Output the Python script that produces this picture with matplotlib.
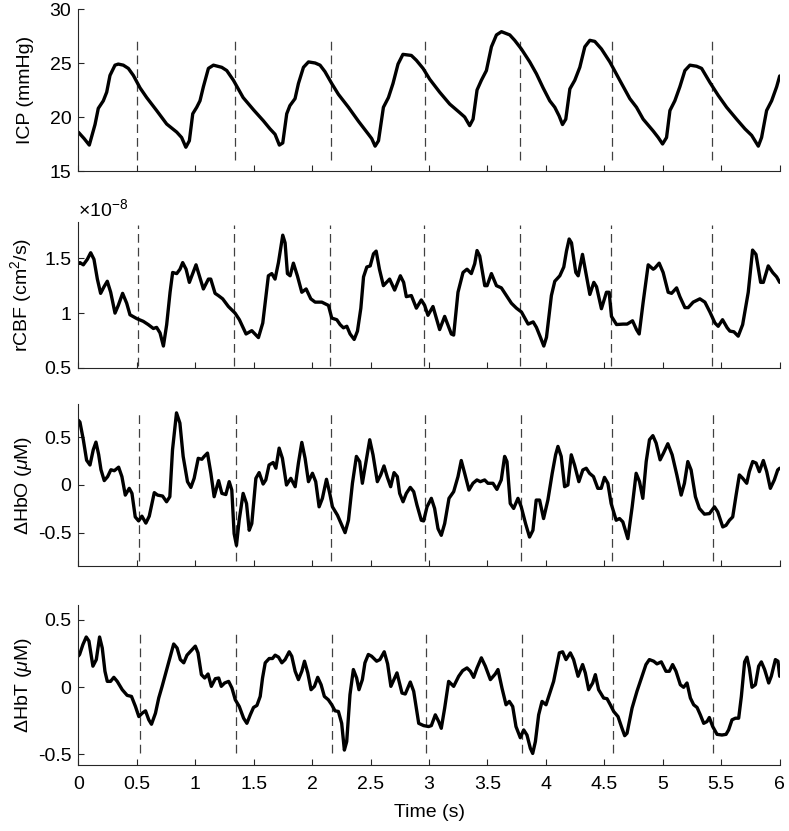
import matplotlib
matplotlib.use("Agg")
import matplotlib.pyplot as plt
from matplotlib.ticker import FormatStrFormatter

plt.rcParams["font.family"] = ["Liberation Sans", "DejaVu Sans"]
plt.rcParams["mathtext.fontset"] = "custom"
plt.rcParams["mathtext.rm"] = "Liberation Sans"
plt.rcParams["mathtext.it"] = "Liberation Sans:italic"

# (time s, value) points
icp_points = [
    (0.0, 18.6), (0.05, 18.0), (0.094, 17.4), (0.143, 19.3), (0.171, 20.8), (0.214, 21.5),
    (0.243, 22.3), (0.271, 23.85), (0.314, 24.8), (0.342, 24.9), (0.385, 24.8), (0.428, 24.5),
    (0.471, 23.85), (0.528, 22.7), (0.585, 21.8), (0.67, 20.6), (0.756, 19.35), (0.842, 18.6),
    (0.884, 18.1), (0.92, 17.2), (0.95, 17.8), (0.979, 20.3), (1.013, 20.9), (1.041, 21.5),
    (1.07, 22.8), (1.113, 24.5), (1.156, 24.8), (1.227, 24.6), (1.27, 24.3), (1.327, 23.4),
    (1.41, 21.8), (1.5, 20.65), (1.583, 19.65), (1.64, 18.9), (1.683, 18.4), (1.72, 17.4),
    (1.749, 17.6), (1.783, 20.3), (1.81, 21.05), (1.854, 21.7), (1.883, 23.1), (1.926, 24.6),
    (1.969, 25.1), (2.026, 25.0), (2.068, 24.8), (2.11, 24.2), (2.168, 23.1), (2.225, 22.1),
    (2.311, 20.9), (2.397, 19.6), (2.482, 18.4), (2.51, 18.0), (2.539, 17.3), (2.568, 17.8),
    (2.61, 20.9), (2.653, 21.8), (2.692, 23.1), (2.735, 24.9), (2.777, 25.8), (2.849, 25.7),
    (2.892, 25.25), (2.949, 24.5), (3.006, 23.5), (3.091, 22.3), (3.177, 21.2), (3.263, 20.4),
    (3.305, 20.0), (3.348, 19.2), (3.377, 19.8), (3.411, 22.5), (3.448, 23.4), (3.491, 24.3),
    (3.534, 26.5), (3.577, 27.6), (3.62, 27.9), (3.691, 27.6), (3.733, 27.1), (3.79, 26.3),
    (3.862, 25.1), (3.919, 24.0), (3.976, 22.7), (4.033, 21.5), (4.076, 20.9), (4.113, 20.1),
    (4.142, 19.3), (4.17, 19.8), (4.205, 22.6), (4.247, 23.4), (4.29, 24.6), (4.333, 26.5),
    (4.376, 27.1), (4.418, 27.0), (4.475, 26.3), (4.547, 25.1), (4.632, 23.4), (4.718, 21.7),
    (4.775, 20.9), (4.832, 19.8), (4.918, 18.7), (4.961, 18.1), (4.998, 17.5), (5.032, 18.1),
    (5.061, 20.6), (5.103, 21.5), (5.146, 22.8), (5.189, 24.3), (5.232, 24.8), (5.289, 24.7),
    (5.332, 24.5), (5.403, 23.2), (5.474, 22.0), (5.546, 20.9), (5.631, 19.8), (5.703, 18.9),
    (5.76, 18.3), (5.817, 17.3), (5.845, 18.1), (5.888, 20.6), (5.931, 21.5), (5.974, 22.8),
    (6.0, 23.8),
]

# rCBF in units of 1e-8 cm^2/s
rcbf_points = [
    (0.0, 1.45), (0.014, 1.46), (0.043, 1.44), (0.077, 1.49), (0.106, 1.55), (0.134, 1.49),
    (0.163, 1.31), (0.191, 1.18), (0.22, 1.24), (0.248, 1.29), (0.277, 1.19), (0.314, 1.0),
    (0.342, 1.07), (0.379, 1.18), (0.414, 1.09), (0.442, 0.985), (0.5, 0.95), (0.556, 0.925),
    (0.599, 0.895), (0.642, 0.86), (0.67, 0.87), (0.699, 0.82), (0.728, 0.70), (0.756, 0.895),
    (0.785, 1.19), (0.807, 1.37), (0.842, 1.36), (0.87, 1.40), (0.893, 1.46), (0.922, 1.40),
    (0.95, 1.28), (0.979, 1.36), (1.007, 1.44), (1.036, 1.34), (1.07, 1.22), (1.113, 1.31),
    (1.133, 1.31), (1.17, 1.18), (1.198, 1.16), (1.235, 1.13), (1.284, 1.06), (1.341, 1.0),
    (1.378, 0.94), (1.435, 0.81), (1.484, 0.84), (1.541, 0.777), (1.578, 0.91), (1.626, 1.34),
    (1.655, 1.36), (1.683, 1.31), (1.712, 1.46), (1.749, 1.71), (1.769, 1.64), (1.789, 1.36),
    (1.812, 1.34), (1.84, 1.455), (1.874, 1.34), (1.912, 1.19), (1.949, 1.22), (1.989, 1.13),
    (2.026, 1.10), (2.083, 1.10), (2.14, 1.07), (2.168, 0.955), (2.211, 0.94), (2.24, 0.895),
    (2.268, 0.866), (2.297, 0.88), (2.325, 0.81), (2.36, 0.76), (2.388, 0.836), (2.417, 1.045),
    (2.44, 1.33), (2.468, 1.42), (2.497, 1.43), (2.525, 1.54), (2.548, 1.565), (2.576, 1.40),
    (2.61, 1.25), (2.663, 1.31), (2.706, 1.21), (2.755, 1.34), (2.783, 1.28), (2.806, 1.15),
    (2.849, 1.16), (2.892, 1.045), (2.934, 1.12), (2.963, 1.07), (2.991, 0.98), (3.034, 1.06),
    (3.091, 0.85), (3.134, 0.97), (3.191, 0.81), (3.211, 0.80), (3.248, 1.19), (3.291, 1.37),
    (3.325, 1.40), (3.362, 1.36), (3.391, 1.45), (3.411, 1.57), (3.434, 1.52), (3.477, 1.25),
    (3.497, 1.25), (3.534, 1.36), (3.577, 1.25), (3.619, 1.23), (3.662, 1.16), (3.705, 1.09),
    (3.748, 1.045), (3.791, 1.01), (3.819, 0.955), (3.848, 0.90), (3.891, 0.92), (3.919, 0.87),
    (3.953, 0.78), (3.982, 0.70), (4.005, 0.78), (4.047, 1.16), (4.076, 1.29), (4.119, 1.34),
    (4.153, 1.42), (4.176, 1.565), (4.199, 1.675), (4.219, 1.64), (4.239, 1.49), (4.256, 1.37),
    (4.276, 1.34), (4.313, 1.535), (4.347, 1.34), (4.376, 1.17), (4.41, 1.28), (4.433, 1.24),
    (4.475, 1.04), (4.518, 1.19), (4.541, 1.19), (4.561, 0.97), (4.604, 0.896), (4.661, 0.90),
    (4.695, 0.90), (4.741, 0.93), (4.775, 0.85), (4.798, 0.81), (4.832, 1.10), (4.875, 1.44),
    (4.918, 1.40), (4.932, 1.41), (4.969, 1.455), (5.003, 1.37), (5.046, 1.19), (5.075, 1.18),
    (5.118, 1.23), (5.146, 1.15), (5.189, 1.05), (5.217, 1.05), (5.26, 1.10), (5.317, 1.13),
    (5.36, 1.10), (5.403, 1.01), (5.446, 0.91), (5.474, 0.88), (5.511, 0.94), (5.551, 0.866),
    (5.574, 0.836), (5.608, 0.83), (5.645, 0.79), (5.683, 0.895), (5.731, 1.19), (5.768, 1.574),
    (5.797, 1.535), (5.837, 1.28), (5.86, 1.28), (5.902, 1.43), (5.94, 1.37), (5.974, 1.33),
    (6.0, 1.28),
]

hbo_points = [
    (0.0, 0.68), (0.014, 0.66), (0.043, 0.475), (0.071, 0.26), (0.1, 0.21), (0.128, 0.37),
    (0.151, 0.45), (0.174, 0.32), (0.194, 0.16), (0.222, 0.046), (0.251, 0.088), (0.279, 0.16),
    (0.308, 0.15), (0.345, 0.187), (0.373, 0.088), (0.402, -0.106), (0.436, -0.035), (0.459, -0.088),
    (0.487, -0.335), (0.516, -0.377), (0.544, -0.327), (0.578, -0.40), (0.607, -0.327), (0.65, -0.08),
    (0.678, -0.106), (0.721, -0.116), (0.755, -0.176), (0.783, -0.123), (0.806, 0.37), (0.84, 0.757),
    (0.869, 0.65), (0.897, 0.30), (0.934, 0.035), (0.963, -0.025), (0.991, 0.07), (1.026, 0.28),
    (1.057, 0.27), (1.077, 0.30), (1.105, 0.335), (1.134, 0.123), (1.162, -0.123), (1.2, 0.046),
    (1.228, -0.088), (1.262, -0.1), (1.291, 0.035), (1.313, -0.053), (1.333, -0.51), (1.353, -0.634),
    (1.376, -0.37), (1.41, -0.088), (1.439, -0.194), (1.462, -0.475), (1.484, -0.405), (1.519, 0.07),
    (1.547, 0.13), (1.581, 0.01), (1.604, 0.053), (1.632, 0.21), (1.667, 0.236), (1.69, 0.176),
    (1.718, 0.387), (1.746, 0.28), (1.781, 0.0), (1.818, 0.07), (1.855, -0.018), (1.883, 0.23),
    (1.912, 0.447), (1.94, 0.28), (1.969, 0.035), (2.003, 0.123), (2.031, 0.035), (2.06, -0.229),
    (2.088, -0.14), (2.123, 0.06), (2.151, -0.088), (2.174, -0.229), (2.217, -0.317), (2.254, -0.42),
    (2.282, -0.50), (2.311, -0.37), (2.345, 0.018), (2.379, 0.30), (2.407, 0.246), (2.43, 0.018),
    (2.459, 0.23), (2.493, 0.475), (2.521, 0.317), (2.558, 0.035), (2.587, 0.106), (2.615, 0.20),
    (2.644, 0.08), (2.672, -0.018), (2.701, 0.13), (2.729, 0.088), (2.749, -0.088), (2.778, -0.176),
    (2.806, -0.088), (2.84, -0.025), (2.869, -0.07), (2.897, -0.21), (2.934, -0.37), (2.954, -0.377),
    (2.983, -0.229), (3.02, -0.14), (3.048, -0.246), (3.077, -0.458), (3.105, -0.528), (3.134, -0.405),
    (3.171, -0.14), (3.211, -0.07), (3.248, 0.088), (3.276, 0.257), (3.305, 0.123), (3.342, -0.053),
    (3.376, 0.018), (3.41, 0.053), (3.439, 0.035), (3.476, 0.053), (3.504, 0.018), (3.547, 0.018),
    (3.581, -0.046), (3.618, 0.053), (3.647, 0.30), (3.667, 0.246), (3.695, -0.194), (3.724, -0.246),
    (3.761, -0.14), (3.789, -0.229), (3.826, -0.405), (3.86, -0.546), (3.889, -0.475), (3.917, -0.158),
    (3.946, -0.158), (3.98, -0.352), (4.017, -0.158), (4.054, 0.123), (4.083, 0.317), (4.103, 0.405),
    (4.131, 0.30), (4.16, -0.018), (4.188, 0.0), (4.217, 0.317), (4.245, 0.21), (4.282, 0.035),
    (4.316, 0.158), (4.345, 0.176), (4.373, 0.123), (4.407, 0.088), (4.444, -0.035), (4.473, -0.035),
    (4.501, 0.08), (4.53, 0.018), (4.558, -0.194), (4.601, -0.37), (4.63, -0.352), (4.658, -0.387),
    (4.701, -0.563), (4.738, -0.229), (4.772, 0.123), (4.801, 0.035), (4.829, -0.14), (4.858, 0.246),
    (4.886, 0.475), (4.915, 0.518), (4.943, 0.44), (4.977, 0.264), (5.006, 0.335), (5.043, 0.433),
    (5.08, 0.317), (5.12, 0.106), (5.157, -0.106), (5.185, 0.018), (5.214, 0.246), (5.242, 0.158),
    (5.279, -0.123), (5.313, -0.246), (5.356, -0.306), (5.399, -0.30), (5.442, -0.229), (5.47, -0.282),
    (5.513, -0.44), (5.541, -0.423), (5.57, -0.37), (5.598, -0.335), (5.627, -0.106), (5.655, 0.106),
    (5.684, 0.07), (5.718, 0.018), (5.74, 0.14), (5.769, 0.246), (5.798, 0.23), (5.826, 0.14),
    (5.86, 0.257), (5.889, 0.14), (5.92, -0.035), (5.954, 0.053), (5.983, 0.158), (6.0, 0.176),
]

hbt_points = [
    (0.0, 0.23), (0.011, 0.242), (0.04, 0.317), (0.068, 0.372), (0.091, 0.342), (0.125, 0.155),
    (0.154, 0.204), (0.182, 0.372), (0.205, 0.29), (0.228, 0.117), (0.248, 0.042), (0.276, 0.042),
    (0.304, 0.072), (0.333, 0.042), (0.376, -0.02), (0.418, -0.062), (0.455, -0.07), (0.489, -0.145),
    (0.518, -0.22), (0.546, -0.195), (0.575, -0.177), (0.603, -0.244), (0.626, -0.277), (0.66, -0.195),
    (0.688, -0.082), (0.717, 0.005), (0.76, 0.142), (0.788, 0.23), (0.816, 0.32), (0.845, 0.29),
    (0.873, 0.204), (0.902, 0.18), (0.93, 0.237), (0.967, 0.272), (1.001, 0.304), (1.024, 0.254),
    (1.053, 0.092), (1.081, 0.067), (1.11, 0.097), (1.138, 0.005), (1.172, 0.062), (1.201, 0.067),
    (1.223, 0.005), (1.252, 0.03), (1.286, 0.042), (1.314, -0.007), (1.343, -0.095), (1.377, -0.145),
    (1.414, -0.232), (1.442, -0.27), (1.471, -0.207), (1.499, -0.152), (1.528, -0.137), (1.556, -0.07),
    (1.576, 0.067), (1.599, 0.18), (1.633, 0.212), (1.661, 0.212), (1.684, 0.237), (1.713, 0.222),
    (1.741, 0.18), (1.769, 0.204), (1.804, 0.262), (1.826, 0.229), (1.855, 0.117), (1.883, 0.055),
    (1.912, 0.117), (1.935, 0.192), (1.963, 0.105), (1.991, -0.02), (2.02, 0.005), (2.048, 0.072),
    (2.077, 0.017), (2.105, -0.07), (2.139, -0.095), (2.168, -0.132), (2.196, -0.177), (2.225, -0.182),
    (2.253, -0.27), (2.276, -0.469), (2.296, -0.406), (2.324, -0.057), (2.353, 0.13), (2.381, 0.067),
    (2.401, -0.02), (2.43, 0.055), (2.452, 0.18), (2.481, 0.242), (2.509, 0.229), (2.552, 0.192),
    (2.58, 0.204), (2.617, 0.262), (2.646, 0.172), (2.674, 0.005), (2.726, 0.105), (2.769, -0.045),
    (2.797, -0.052), (2.84, 0.037), (2.869, -0.032), (2.912, -0.27), (2.954, -0.287), (2.997, -0.294),
    (3.02, -0.287), (3.054, -0.207), (3.083, -0.257), (3.105, -0.307), (3.134, -0.157), (3.168, 0.042),
    (3.211, 0.005), (3.254, 0.08), (3.288, 0.122), (3.325, 0.142), (3.354, 0.117), (3.382, 0.072),
    (3.411, 0.142), (3.448, 0.217), (3.482, 0.155), (3.525, 0.055), (3.567, 0.097), (3.59, 0.13),
    (3.624, -0.007), (3.659, -0.132), (3.687, -0.107), (3.716, -0.145), (3.744, -0.294), (3.781, -0.377),
    (3.81, -0.319), (3.838, -0.357), (3.867, -0.456), (3.887, -0.494), (3.91, -0.406), (3.938, -0.207),
    (3.967, -0.107), (4.001, -0.132), (4.038, -0.032), (4.066, 0.042), (4.095, 0.167), (4.115, 0.254),
    (4.143, 0.262), (4.172, 0.204), (4.209, 0.254), (4.237, 0.204), (4.275, 0.08), (4.314, 0.167),
    (4.337, 0.105), (4.366, -0.02), (4.4, 0.03), (4.423, 0.092), (4.451, -0.02), (4.494, -0.082),
    (4.523, -0.087), (4.551, -0.132), (4.58, -0.182), (4.617, -0.22), (4.651, -0.307), (4.674, -0.362),
    (4.694, -0.344), (4.737, -0.157), (4.779, -0.032), (4.822, 0.08), (4.856, 0.167), (4.885, 0.204),
    (4.922, 0.192), (4.95, 0.172), (4.987, 0.187), (5.027, 0.117), (5.056, 0.117), (5.084, 0.167),
    (5.113, 0.117), (5.15, 0.017), (5.178, -0.002), (5.207, 0.03), (5.236, -0.082), (5.264, -0.132),
    (5.293, -0.152), (5.321, -0.207), (5.35, -0.27), (5.378, -0.257), (5.398, -0.227), (5.427, -0.294),
    (5.464, -0.352), (5.506, -0.357), (5.541, -0.352), (5.563, -0.319), (5.592, -0.244), (5.621, -0.232),
    (5.649, -0.232), (5.672, -0.07), (5.7, 0.187), (5.72, 0.222), (5.74, 0.142), (5.763, -0.002),
    (5.792, 0.017), (5.82, 0.155), (5.843, 0.187), (5.871, 0.13), (5.906, 0.03), (5.928, 0.08),
    (5.963, 0.204), (5.985, 0.192), (6.0, 0.08),
]

# dashed event markers (s), per panel
events_icp = [0.505, 1.340, 2.159, 2.963, 3.781, 4.563, 5.423]
events_rcbf = [0.513, 1.335, 2.153, 2.955, 3.776, 4.554, 5.418]
events_hbo = [0.519, 1.346, 2.162, 2.966, 3.784, 4.566, 5.427]
events_hbt = [0.530, 1.349, 2.170, 2.972, 3.793, 4.571, 5.432]

# axes boxes in pixels from the top of the 831 px figure: (top, bottom)
panels = [
    dict(points=icp_points, events=events_icp, span=(16.0, 27.4), ylim=(15, 30),
         yticks=[15, 20, 25, 30], ylabel="ICP (mmHg)", box=(9, 171)),
    dict(points=rcbf_points, events=events_rcbf, span=(0.52, 1.80), ylim=(0.5, 1.83),
         yticks=[0.5, 1, 1.5], ylabel="rCBF (cm$^2$/s)", box=(222, 368)),
    dict(points=hbo_points, events=events_hbo, span=(-0.80, 0.75), ylim=(-0.85, 0.85),
         yticks=[-0.5, 0, 0.5], ylabel=r"$\Delta$HbO ($\mu$M)", box=(404, 566)),
    dict(points=hbt_points, events=events_hbt, span=(-0.49, 0.41), ylim=(-0.58, 0.61),
         yticks=[-0.5, 0, 0.5], ylabel=r"$\Delta$HbT ($\mu$M)", box=(605, 765)),
]

FS = 14
W, H = 789, 831
fig = plt.figure(figsize=(W / 100, H / 100), dpi=100)
x0, x1 = 78.3, 779.7

for i, p in enumerate(panels):
    top, bot = p["box"]
    ax = fig.add_axes([x0 / W, 1 - bot / H, (x1 - x0) / W, (bot - top) / H])
    t = [pt[0] for pt in p["points"]]
    v = [pt[1] for pt in p["points"]]
    ax.vlines(p["events"], p["span"][0], p["span"][1], colors="0.25",
              linestyles=(0, (7, 4)), linewidth=0.9)
    ax.plot(t, v, color="black", linewidth=2.4, solid_joinstyle="round",
            solid_capstyle="round")
    ax.set_xlim(0, 6)
    ax.set_ylim(*p["ylim"])
    ax.set_yticks(p["yticks"])
    ax.set_xticks([0, 0.5, 1, 1.5, 2, 2.5, 3, 3.5, 4, 4.5, 5, 5.5, 6])
    ax.xaxis.set_major_formatter(FormatStrFormatter("%g"))
    ax.yaxis.set_major_formatter(FormatStrFormatter("%g"))
    for side in ("top", "right"):
        ax.spines[side].set_visible(False)
    for side in ("left", "bottom"):
        ax.spines[side].set_linewidth(0.8)
        ax.spines[side].set_color("0.15")
    ax.tick_params(direction="in", length=4.5, width=0.8, color="0.15", labelsize=FS)
    ax.tick_params(axis="y", pad=5)
    ax.tick_params(axis="x", pad=8)
    ax.set_ylabel(p["ylabel"], fontsize=FS)
    ax.yaxis.set_label_coords(-0.063, 0.5)
    if i < 3:
        ax.tick_params(labelbottom=False)
    else:
        ax.set_xlabel("Time (s)", fontsize=FS, labelpad=8)
    if i == 1:
        ax.text(0.0, 1.01, r"$\times10^{-8}$", transform=ax.transAxes,
                fontsize=FS, ha="left", va="bottom")

fig.savefig("out.png", dpi=100)
